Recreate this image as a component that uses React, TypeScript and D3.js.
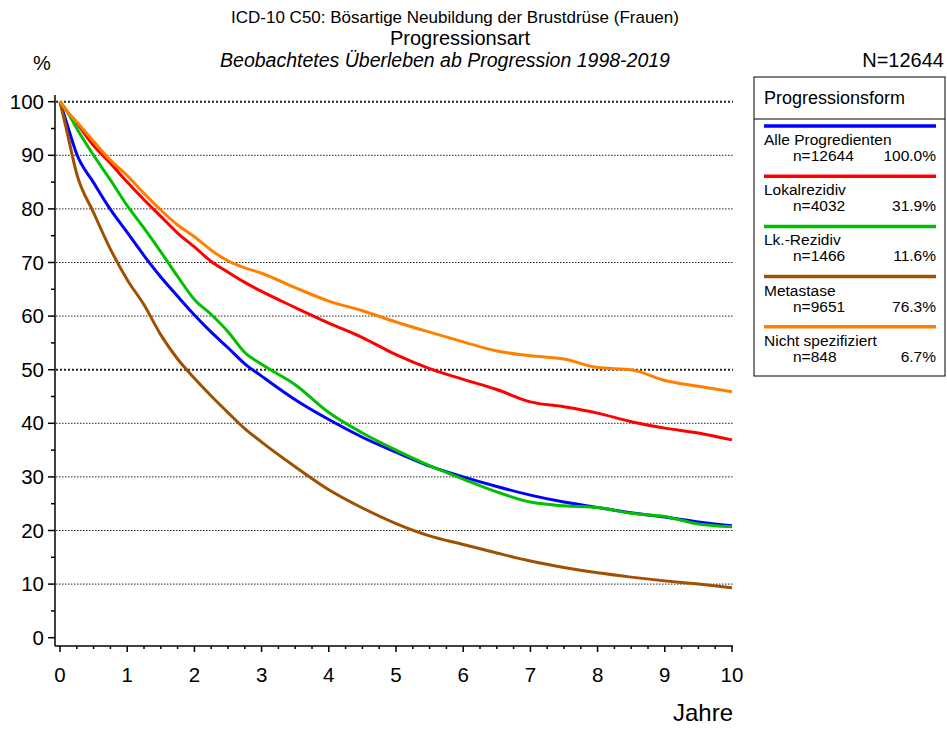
import React from 'react';
import * as d3 from 'd3';

// Zeitpunkte (Jahre) und Überlebensraten (%)
const years = [0, 0.1, 0.25, 0.5, 0.75, 1, 1.25, 1.5, 1.75, 2, 2.25, 2.5, 2.75, 3, 3.5, 4, 4.5, 5, 5.5, 6, 6.5, 7, 7.5, 8, 8.5, 9, 9.5, 10];

const alle = [100, 96, 90.2, 84.9, 79.9, 75.6, 71.3, 67.3, 63.7, 60.2, 57.0, 54.1, 51.1, 48.8, 44.4, 40.7, 37.4, 34.6, 32.0, 30.0, 28.2, 26.6, 25.3, 24.3, 23.3, 22.5, 21.6, 20.9];
const lokal = [100, 98.3, 96, 91.8, 88.5, 85, 81.7, 78.6, 75.5, 72.9, 70.2, 68.2, 66.3, 64.6, 61.6, 58.7, 56.0, 52.8, 50.2, 48.2, 46.3, 44.0, 43.1, 41.9, 40.3, 39.1, 38.2, 36.9];
const lk = [100, 98.3, 95.0, 90.0, 85.4, 80.6, 76.4, 72.0, 67.4, 63.1, 60.3, 57.1, 53.2, 51.0, 47.2, 42.0, 38.2, 35.0, 32.1, 29.6, 27.2, 25.3, 24.6, 24.3, 23.2, 22.6, 21.2, 20.7];
const meta = [100, 94.6, 86.5, 79.3, 72.5, 66.8, 62.1, 56.5, 52.0, 48.4, 45.1, 42.0, 39.0, 36.5, 31.9, 27.6, 24.2, 21.3, 19.0, 17.4, 15.8, 14.3, 13.1, 12.1, 11.3, 10.6, 10.0, 9.3];
const nicht = [100, 98.3, 96.2, 92.6, 89.1, 86.2, 82.9, 79.8, 77.0, 74.8, 72.3, 70.3, 69.0, 68.0, 65.3, 62.8, 61.0, 58.9, 57.0, 55.2, 53.5, 52.6, 52.0, 50.4, 50.0, 48.0, 46.9, 45.9];

const seriesNames = ['Alle Progredienten', 'Lokalrezidiv', 'Lk.-Rezidiv', 'Metastase', 'Nicht spezifiziert'];
const seriesN = ['n=12644', 'n=4032', 'n=1466', 'n=9651', 'n=848'];
const seriesPct = ['100.0%', '31.9%', '11.6%', '76.3%', '6.7%'];
const seriesColors = ['#0000ff', '#ff0000', '#00c000', '#a05000', '#ff8000'];
const seriesValues = [alle, lokal, lk, meta, nicht];

const yTicks = [0, 10, 20, 30, 40, 50, 60, 70, 80, 90, 100];
const xTicks = [0, 1, 2, 3, 4, 5, 6, 7, 8, 9, 10];

const font = "Arial, 'Liberation Sans', sans-serif";

export default function App() {
  const width = 947;
  const height = 729;

  const x = d3.scaleLinear().domain([0, 10]).range([60, 732]);
  const y = d3.scaleLinear().domain([0, 100]).range([637.7, 101.7]);

  const axisX = 55;
  const axisY = 646;

  const line = d3.line<[number, number]>()
    .x(d => x(d[0]))
    .y(d => y(d[1]))
    .curve(d3.curveMonotoneX);

  const minorY = d3.range(5, 100, 10);
  const minorX = d3.range(0, 10.01, 0.25).filter(t => Math.abs(t - Math.round(t)) > 0.01);

  const legX = 754;
  const legY = 77;
  const legW = 191;
  const legH = 299;

  return (
    <svg width={width} height={height} style={{ position: 'absolute', left: 0, top: 0, background: '#fff' }} fontFamily={font}>
      {/* Titel */}
      <text x={455} y={23} fontSize={17} textAnchor="middle">ICD-10 C50: Bösartige Neubildung der Brustdrüse (Frauen)</text>
      <text x={460} y={45} fontSize={20} textAnchor="middle">Progressionsart</text>
      <text x={445} y={67} fontSize={19.5} fontStyle="italic" textAnchor="middle">Beobachtetes Überleben ab Progression 1998-2019</text>
      <text x={944} y={67} fontSize={20} textAnchor="end">N=12644</text>
      <text x={42} y={70} fontSize={20} textAnchor="middle">%</text>

      {/* Gitterlinien */}
      {yTicks.filter(v => v > 0).map(v => (
        <line key={'g' + v} x1={axisX + 1} x2={733} y1={y(v)} y2={y(v)}
          stroke="#222" strokeWidth={v === 50 || v === 100 ? 2 : 1}
          strokeDasharray={v === 50 || v === 100 ? '2,2' : '1.5,1.5'} />
      ))}

      {/* y-Achse */}
      <line x1={axisX} x2={axisX} y1={95} y2={axisY} stroke="#000" strokeWidth={1.5} />
      {yTicks.map(v => (
        <g key={'y' + v}>
          <line x1={axisX - 7} x2={axisX} y1={y(v)} y2={y(v)} stroke="#000" strokeWidth={1.5} />
          <text x={44} y={y(v)} dy="0.35em" fontSize={20.5} textAnchor="end">{v}</text>
        </g>
      ))}
      {minorY.map(v => (
        <line key={'my' + v} x1={axisX - 4} x2={axisX} y1={y(v)} y2={y(v)} stroke="#000" strokeWidth={1.5} />
      ))}

      {/* x-Achse */}
      <line x1={axisX} x2={733} y1={axisY} y2={axisY} stroke="#000" strokeWidth={1.5} />
      {xTicks.map(t => (
        <g key={'x' + t}>
          <line x1={x(t)} x2={x(t)} y1={axisY} y2={axisY + 6} stroke="#000" strokeWidth={1.5} />
          <text x={x(t)} y={682} fontSize={20.5} textAnchor="middle">{t}</text>
        </g>
      ))}
      {minorX.map(t => (
        <line key={'mx' + t} x1={x(t)} x2={x(t)} y1={axisY} y2={axisY + 3} stroke="#000" strokeWidth={1.5} />
      ))}
      <text x={733} y={721} fontSize={24} textAnchor="end">Jahre</text>

      {/* Kurven */}
      {seriesValues.map((vals, i) => (
        <path key={'s' + i}
          d={line(years.map((t, j) => [t, vals[j]] as [number, number])) || ''}
          fill="none" stroke={seriesColors[i]} strokeWidth={3} strokeLinejoin="round" />
      ))}

      {/* Legende */}
      <rect x={legX} y={legY} width={legW} height={legH} fill="#fff" stroke="#000" strokeWidth={1} />
      <line x1={legX} x2={legX + legW} y1={119} y2={119} stroke="#000" strokeWidth={1} />
      <text x={764} y={104} fontSize={18} >Progressionsform</text>
      {seriesNames.map((name, i) => {
        const top = 126 + i * 50.2;
        return (
          <g key={'l' + i}>
            <line x1={764} x2={936} y1={top} y2={top} stroke={seriesColors[i]} strokeWidth={3.5} />
            <text x={764} y={top + 19} fontSize={15.5}>{name}</text>
            <text x={793} y={top + 35} fontSize={15.5}>{seriesN[i]}</text>
            <text x={936} y={top + 35} fontSize={15.5} textAnchor="end">{seriesPct[i]}</text>
          </g>
        );
      })}
    </svg>
  );
}
